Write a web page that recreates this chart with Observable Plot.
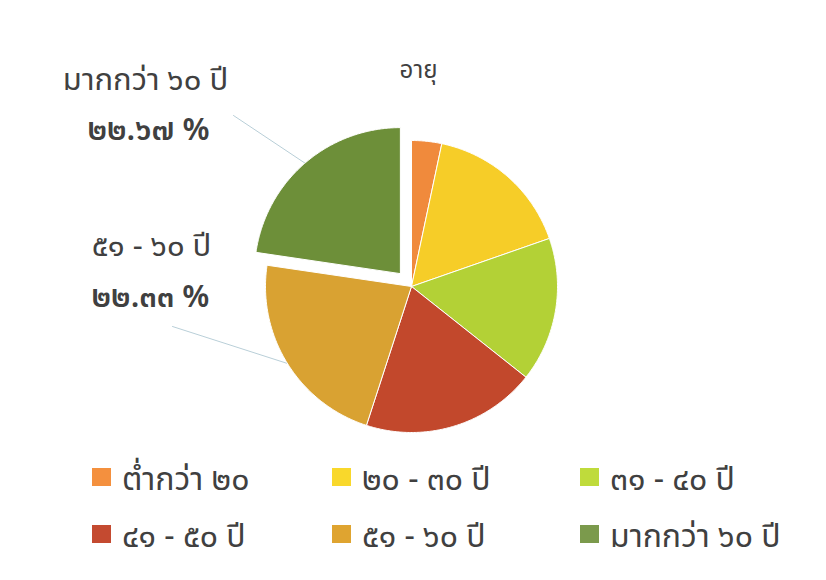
<!DOCTYPE html>
<html>
<head>
<meta charset="utf-8">
<script src="https://cdn.jsdelivr.net/npm/d3@7"></script>
<script src="https://cdn.jsdelivr.net/npm/@observablehq/plot@0.6"></script>
<style>
  html, body { margin: 0; padding: 0; background: #fff; }
  body { width: 826px; height: 580px; overflow: hidden; font-family: "Noto Sans Thai", "Noto Sans", sans-serif; color: #404040; position: relative; }
  #chart { position: absolute; left: 0; top: 0; }
  #legend { position: absolute; left: 0; top: 455px; width: 826px; height: 125px; }
  .sw { position: absolute; width: 19px; height: 18px; }
  .lt { position: absolute; font-size: 32px; line-height: 40px; color: #404040; white-space: nowrap; }
</style>
</head>
<body>
<div id="chart"></div>
<div id="legend"></div>
<script>
// ---- data ----
const title = "อายุ";
const categories = ["ต่ำกว่า ๒๐", "๒๐ - ๓๐ ปี", "๓๑ - ๔๐ ปี", "๔๑ - ๕๐ ปี", "๕๑ - ๖๐ ปี", "มากกว่า ๖๐ ปี"];
const values = [3.33, 16.33, 16.00, 19.33, 22.33, 22.67];
const valueLabels = ["", "", "", "", "๒๒.๓๓ %", "๒๒.๖๗ %"];
const colors = ["#f08a3c", "#f6cd28", "#b3d136", "#c2482c", "#d9a232", "#6d8f39"];
const legendColors = ["#f4903e", "#f9d82b", "#bfdb3b", "#c44a30", "#dfa430", "#7b9a4c"];

// ---- layout ----
const W = 826, H = 455;
const cx = 411, cy = 286, R = 146, explodeBy = 17;
const exploded = "มากกว่า ๖๐ ปี";
// label placement for labelled slices
const labelPos = {
  "มากกว่า ๖๐ ปี": {nx: 145, ny: 80, vx: 148, vy: 130, line0: [233, 115]},
  "๕๑ - ๖๐ ปี": {nx: 151, ny: 246, vx: 150, vy: 297, line0: [172, 326]}
};

const data = categories.map((c, i) => ({category: c, value: values[i], label: valueLabels[i]}));
const arcs = d3.pie().sort(null).value(d => d.value)(data);

const polys = [];
const leaders = [];
const names = [];
const vals = [];
arcs.forEach(a => {
  const c = a.data.category;
  const mid = (a.startAngle + a.endAngle) / 2;
  const off = c === exploded ? explodeBy : 0;
  const ox = cx + off * Math.sin(mid), oy = cy - off * Math.cos(mid);
  polys.push({category: c, x: ox, y: oy});
  const n = Math.max(2, Math.ceil((a.endAngle - a.startAngle) / 0.01));
  for (let k = 0; k <= n; k++) {
    const t = a.startAngle + (a.endAngle - a.startAngle) * k / n;
    polys.push({category: c, x: ox + R * Math.sin(t), y: oy - R * Math.cos(t)});
  }
  polys.push({category: c, x: ox, y: oy});
  const lp = labelPos[c];
  if (lp) {
    leaders.push({category: c, x: lp.line0[0], y: lp.line0[1]});
    leaders.push({category: c, x: ox + R * Math.sin(mid), y: oy - R * Math.cos(mid)});
    names.push({text: c, x: lp.nx, y: lp.ny});
    vals.push({text: a.data.label, x: lp.vx, y: lp.vy});
  }
});

const plot = Plot.plot({
  width: W, height: H,
  margin: 0,
  style: {background: "transparent", fontFamily: '"Noto Sans Thai", "Noto Sans", sans-serif'},
  x: {domain: [0, W], range: [0, W], axis: null},
  y: {domain: [0, H], range: [0, H], axis: null},
  color: {domain: categories, range: colors},
  marks: [
    Plot.line(leaders, {x: "x", y: "y", z: "category", stroke: "#b9cfd8", strokeWidth: 1}),
    Plot.line(polys, {x: "x", y: "y", z: "category", fill: "category", stroke: "#ffffff", strokeWidth: 1, strokeLinejoin: "round"}),
    Plot.text([title], {x: [418], y: [70], text: d => d, fontSize: 24, fill: "#404040"}),
    Plot.text(names, {x: "x", y: "y", text: "text", fontSize: 31, fill: "#404040"}),
    Plot.text(vals, {x: "x", y: "y", text: "text", fontSize: 31, fontWeight: 600, fill: "#404040"})
  ]
});
document.getElementById("chart").appendChild(plot);

// ---- legend ----
const legend = d3.select("#legend");
const colX = [92, 332, 580], rowY = [13, 70];
categories.forEach((c, i) => {
  const col = i % 3, row = Math.floor(i / 3);
  legend.append("div").attr("class", "sw")
    .style("left", colX[col] + "px").style("top", rowY[row] + "px")
    .style("background", legendColors[i]);
  legend.append("div").attr("class", "lt")
    .style("left", (colX[col] + 30) + "px").style("top", (rowY[row] - 8) + "px")
    .text(c);
});
</script>
</body>
</html>
